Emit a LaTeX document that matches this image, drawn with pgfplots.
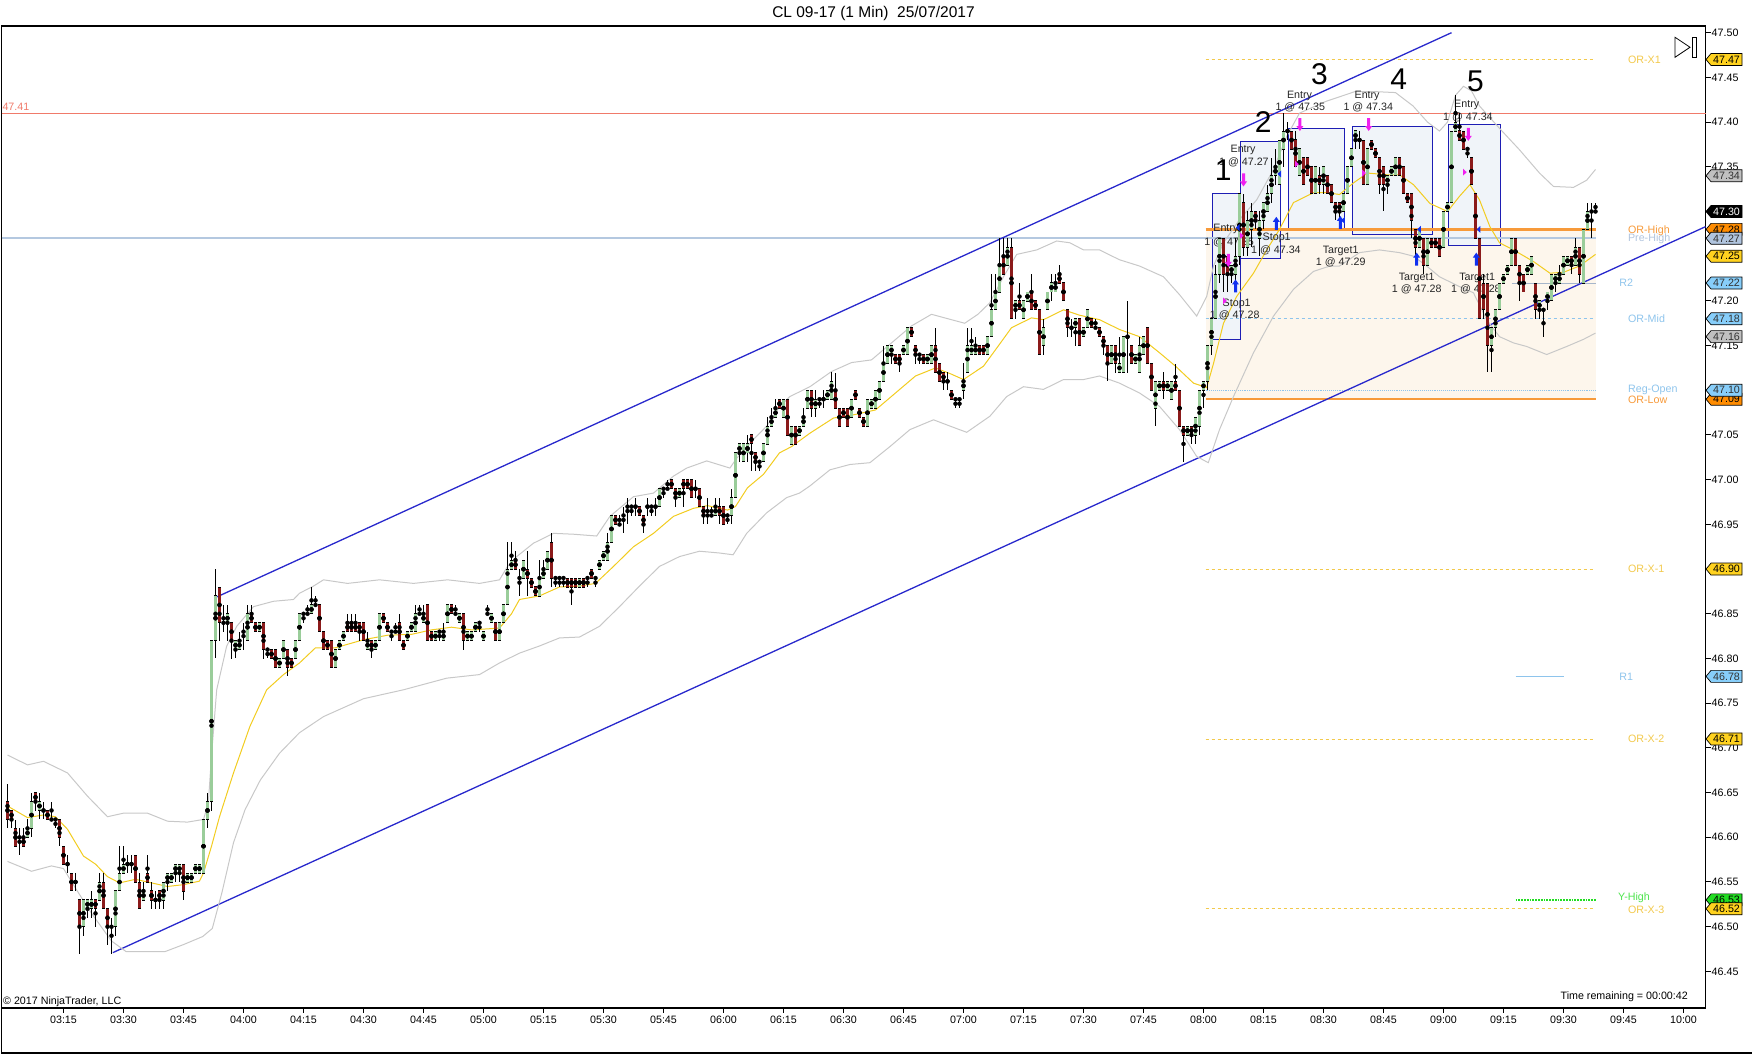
\documentclass[border=0pt]{standalone}
\usepackage{fontspec}
\setmainfont{Liberation Sans}
\usepackage{pgfplots}
\usepackage{pgfplotstable}
\pgfplotsset{compat=1.18}

\definecolor{upc}{HTML}{9ACD9A}
\definecolor{dnc}{HTML}{8B1A1A}
\definecolor{bbc}{HTML}{C8C8C8}
\definecolor{emac}{HTML}{F2CC20}
\definecolor{chan}{HTML}{2828CC}
\definecolor{redl}{HTML}{F07A6A}
\definecolor{preh}{HTML}{B4C8E0}
\definecolor{orc}{HTML}{F79A3A}
\definecolor{ltb}{HTML}{8EC4EC}
\definecolor{goldl}{HTML}{F2C94C}
\definecolor{orshade}{HTML}{FDF6EC}
\definecolor{boxf}{HTML}{F0F4F9}
\definecolor{boxd}{HTML}{1E1EB4}
\definecolor{mag}{HTML}{F020F0}
\definecolor{bluea}{HTML}{1030F0}
\definecolor{yhigh}{HTML}{22DD22}
\definecolor{vgold}{HTML}{FFD21F}
\definecolor{vsilver}{HTML}{C0C0C0}
\definecolor{vorange}{HTML}{FF8C00}
\definecolor{vsteel}{HTML}{B0C4DE}
\definecolor{vsky}{HTML}{87CEFA}
\definecolor{vgreen}{HTML}{22DD22}

\tikzset{
 ann/.style={font=\fontsize{10.7}{12}\selectfont, text=black!85, inner sep=0pt},
 big/.style={font=\fontsize{30}{30}\selectfont, text=black, inner sep=0pt},
 lvl/.style={font=\fontsize{10.7}{12}\selectfont, inner sep=0pt, anchor=west},
}

\pgfdeclareplotmark{darr}{%
 \pgfpathmoveto{\pgfpoint{0pt}{0pt}}\pgfpathlineto{\pgfpoint{-3.5pt}{5pt}}%
 \pgfpathlineto{\pgfpoint{-1.5pt}{5pt}}\pgfpathlineto{\pgfpoint{-1.5pt}{13pt}}%
 \pgfpathlineto{\pgfpoint{1.5pt}{13pt}}\pgfpathlineto{\pgfpoint{1.5pt}{5pt}}%
 \pgfpathlineto{\pgfpoint{3.5pt}{5pt}}\pgfpathclose\pgfusepathqfill}
\pgfdeclareplotmark{uarr}{%
 \pgfpathmoveto{\pgfpoint{0pt}{0pt}}\pgfpathlineto{\pgfpoint{-3.5pt}{-5pt}}%
 \pgfpathlineto{\pgfpoint{-1.5pt}{-5pt}}\pgfpathlineto{\pgfpoint{-1.5pt}{-13pt}}%
 \pgfpathlineto{\pgfpoint{1.5pt}{-13pt}}\pgfpathlineto{\pgfpoint{1.5pt}{-5pt}}%
 \pgfpathlineto{\pgfpoint{3.5pt}{-5pt}}\pgfpathclose\pgfusepathqfill}
\pgfdeclareplotmark{rtri}{%
 \pgfpathmoveto{\pgfpoint{-1.7pt}{-3.5pt}}\pgfpathlineto{\pgfpoint{-1.7pt}{3.5pt}}%
 \pgfpathlineto{\pgfpoint{2pt}{0pt}}\pgfpathclose\pgfusepathqfill}
\pgfdeclareplotmark{ltri}{%
 \pgfpathmoveto{\pgfpoint{1.7pt}{-3.5pt}}\pgfpathlineto{\pgfpoint{1.7pt}{3.5pt}}%
 \pgfpathlineto{\pgfpoint{-2pt}{0pt}}\pgfpathclose\pgfusepathqfill}

\newcommand\VBox[4]{%
 \pgfmathsetmacro\yy{(#1-46.40906)*894}%
 \filldraw[fill=#2, draw=black, line width=0.7pt] (1704.5pt,\yy pt) -- ++(5pt,6pt) -- ++(31pt,0pt) -- ++(0pt,-12pt) -- ++(-31pt,0pt) -- cycle;
 \node[text=#3, inner sep=0pt, font=\fontsize{10.7}{12}\selectfont] at (1725pt,\yy pt) {#4};}

\pgfplotstableread{
m o h l c
1 46.64 46.66 46.61 46.62
2 46.63 46.63 46.61 46.62
3 46.61 46.62 46.59 46.59
4 46.60 46.61 46.58 46.60
5 46.60 46.61 46.59 46.59
6 46.60 46.62 46.60 46.61
7 46.61 46.65 46.60 46.64
8 46.65 46.65 46.63 46.64
9 46.63 46.65 46.62 46.64
10 46.63 46.64 46.62 46.63
11 46.63 46.63 46.62 46.62
12 46.62 46.64 46.62 46.62
13 46.62 46.62 46.61 46.62
14 46.62 46.62 46.59 46.60
15 46.59 46.59 46.57 46.57
16 46.57 46.58 46.56 46.57
17 46.56 46.56 46.54 46.54
18 46.55 46.56 46.54 46.55
19 46.53 46.53 46.47 46.50
20 46.50 46.53 46.49 46.53
21 46.52 46.53 46.51 46.53
22 46.52 46.54 46.51 46.53
23 46.53 46.53 46.50 46.52
24 46.53 46.56 46.53 46.55
25 46.55 46.56 46.52 46.52
26 46.52 46.52 46.48 46.50
27 46.50 46.51 46.47 46.50
28 46.50 46.54 46.49 46.54
29 46.54 46.59 46.54 46.56
30 46.56 46.59 46.56 46.57
31 46.57 46.58 46.56 46.57
32 46.57 46.58 46.56 46.57
33 46.58 46.58 46.55 46.55
34 46.55 46.56 46.52 46.52
35 46.53 46.55 46.53 46.54
36 46.56 46.58 46.55 46.55
37 46.54 46.55 46.52 46.53
38 46.53 46.54 46.52 46.53
39 46.54 46.54 46.52 46.53
40 46.53 46.55 46.52 46.55
41 46.55 46.56 46.54 46.56
42 46.55 46.56 46.55 46.56
43 46.56 46.57 46.55 46.57
44 46.56 46.57 46.55 46.57
45 46.57 46.57 46.53 46.54
46 46.55 46.56 46.55 46.56
47 46.55 46.56 46.55 46.56
48 46.56 46.57 46.56 46.57
49 46.56 46.57 46.56 46.57
50 46.56 46.62 46.56 46.62
51 46.62 46.65 46.61 46.64
52 46.64 46.82 46.63 46.82
53 46.82 46.90 46.80 46.87
54 46.88 46.88 46.82 46.84
55 46.84 46.86 46.83 46.84
56 46.84 46.86 46.82 46.85
57 46.84 46.84 46.80 46.82
58 46.81 46.82 46.80 46.82
59 46.81 46.83 46.81 46.82
60 46.83 46.84 46.81 46.83
61 46.82 46.86 46.82 46.85
62 46.85 46.86 46.84 46.84
63 46.84 46.84 46.83 46.83
64 46.83 46.84 46.83 46.84
65 46.84 46.84 46.80 46.81
66 46.81 46.81 46.80 46.81
67 46.81 46.81 46.80 46.80
68 46.81 46.81 46.79 46.79
69 46.79 46.80 46.79 46.80
70 46.80 46.82 46.80 46.82
71 46.81 46.81 46.78 46.79
72 46.80 46.80 46.79 46.79
73 46.80 46.82 46.80 46.82
74 46.82 46.85 46.82 46.85
75 46.85 46.85 46.84 46.85
76 46.85 46.86 46.85 46.85
77 46.85 46.88 46.85 46.86
78 46.86 46.87 46.86 46.86
79 46.86 46.86 46.83 46.83
80 46.83 46.83 46.81 46.81
81 46.82 46.82 46.81 46.81
82 46.82 46.82 46.79 46.79
83 46.79 46.81 46.79 46.81
84 46.81 46.82 46.81 46.82
85 46.82 46.83 46.82 46.83
86 46.84 46.85 46.83 46.83
87 46.84 46.85 46.83 46.83
88 46.84 46.85 46.83 46.83
89 46.84 46.84 46.82 46.83
90 46.84 46.84 46.82 46.82
91 46.81 46.83 46.81 46.82
92 46.82 46.82 46.80 46.81
93 46.81 46.82 46.81 46.82
94 46.82 46.85 46.82 46.85
95 46.85 46.85 46.84 46.84
96 46.84 46.84 46.83 46.83
97 46.83 46.83 46.82 46.83
98 46.83 46.84 46.83 46.83
99 46.84 46.85 46.82 46.82
100 46.82 46.82 46.81 46.81
101 46.82 46.83 46.82 46.83
102 46.83 46.84 46.83 46.84
103 46.83 46.86 46.83 46.85
104 46.85 46.86 46.85 46.85
105 46.84 46.86 46.84 46.85
106 46.86 46.86 46.82 46.82
107 46.83 46.83 46.82 46.82
108 46.82 46.83 46.82 46.83
109 46.83 46.83 46.82 46.83
110 46.82 46.84 46.82 46.83
111 46.84 46.86 46.84 46.86
112 46.86 46.86 46.85 46.85
113 46.85 46.86 46.85 46.85
114 46.84 46.85 46.84 46.85
115 46.85 46.85 46.81 46.82
116 46.82 46.83 46.82 46.83
117 46.82 46.83 46.82 46.83
118 46.83 46.84 46.83 46.84
119 46.84 46.84 46.83 46.84
120 46.82 46.83 46.82 46.83
121 46.85 46.86 46.85 46.85
122 46.84 46.85 46.84 46.85
123 46.84 46.84 46.82 46.82
124 46.82 46.84 46.82 46.84
125 46.84 46.86 46.84 46.86
126 46.86 46.93 46.86 46.90
127 46.90 46.93 46.90 46.91
128 46.91 46.92 46.90 46.90
129 46.89 46.90 46.87 46.89
130 46.89 46.91 46.89 46.91
131 46.90 46.92 46.87 46.89
132 46.89 46.89 46.88 46.88
133 46.88 46.88 46.87 46.87
134 46.87 46.91 46.87 46.89
135 46.89 46.91 46.89 46.90
136 46.90 46.92 46.90 46.92
137 46.93 46.94 46.88 46.89
138 46.89 46.89 46.88 46.89
139 46.89 46.89 46.88 46.89
140 46.89 46.89 46.88 46.89
141 46.89 46.89 46.88 46.88
142 46.89 46.89 46.86 46.88
143 46.89 46.89 46.88 46.88
144 46.88 46.89 46.88 46.89
145 46.89 46.89 46.88 46.88
146 46.89 46.89 46.88 46.89
147 46.90 46.90 46.89 46.89
148 46.89 46.89 46.88 46.89
149 46.90 46.91 46.90 46.91
150 46.91 46.92 46.91 46.92
151 46.91 46.94 46.91 46.93
152 46.93 46.96 46.93 46.96
153 46.96 46.96 46.95 46.95
154 46.95 46.96 46.95 46.95
155 46.96 46.97 46.94 46.96
156 46.97 46.98 46.95 46.97
157 46.97 46.97 46.96 46.97
158 46.97 46.98 46.96 46.97
159 46.97 46.97 46.96 46.96
160 46.96 46.96 46.94 46.95
161 46.97 46.98 46.96 46.97
162 46.97 46.97 46.96 46.97
163 46.97 46.98 46.96 46.97
164 46.97 46.99 46.97 46.99
165 46.99 46.99 46.98 46.99
166 46.99 47.00 46.99 46.99
167 47.00 47.00 46.99 46.99
168 46.99 46.99 46.97 46.98
169 46.98 46.99 46.98 46.99
170 47.00 47.00 46.97 46.99
171 47.00 47.00 46.99 46.99
172 47.00 47.00 46.98 46.98
173 46.99 47.00 46.98 46.99
174 46.99 46.99 46.97 46.97
175 46.97 46.97 46.95 46.96
176 46.96 46.98 46.95 46.96
177 46.96 46.97 46.96 46.96
178 46.96 46.98 46.96 46.97
179 46.97 46.98 46.95 46.96
180 46.97 46.97 46.95 46.95
181 46.96 46.96 46.95 46.96
182 46.96 46.99 46.95 46.98
183 46.98 47.03 46.98 47.03
184 47.03 47.04 47.02 47.04
185 47.02 47.04 47.02 47.04
186 47.03 47.05 47.02 47.04
187 47.05 47.05 47.01 47.04
188 47.03 47.03 47.01 47.02
189 47.02 47.02 47.01 47.02
190 47.02 47.04 47.02 47.04
191 47.04 47.07 47.04 47.06
192 47.06 47.08 47.06 47.07
193 47.07 47.09 47.07 47.08
194 47.09 47.09 47.08 47.08
195 47.07 47.09 47.07 47.09
196 47.09 47.09 47.05 47.05
197 47.04 47.06 47.04 47.06
198 47.06 47.06 47.04 47.04
199 47.05 47.06 47.05 47.06
200 47.06 47.08 47.06 47.07
201 47.08 47.10 47.08 47.10
202 47.10 47.10 47.07 47.08
203 47.08 47.10 47.07 47.09
204 47.09 47.09 47.08 47.09
205 47.09 47.10 47.08 47.09
206 47.09 47.10 47.09 47.10
207 47.09 47.12 47.09 47.11
208 47.10 47.12 47.08 47.08
209 47.08 47.08 47.06 47.06
210 47.08 47.08 47.07 47.07
211 47.08 47.08 47.06 47.06
212 47.07 47.09 47.07 47.09
213 47.10 47.10 47.09 47.09
214 47.08 47.08 47.07 47.07
215 47.07 47.07 47.06 47.06
216 47.06 47.09 47.06 47.09
217 47.08 47.09 47.08 47.09
218 47.08 47.10 47.08 47.10
219 47.09 47.11 47.09 47.11
220 47.11 47.15 47.11 47.13
221 47.13 47.15 47.13 47.15
222 47.14 47.15 47.13 47.15
223 47.14 47.14 47.13 47.13
224 47.14 47.14 47.12 47.13
225 47.14 47.15 47.14 47.15
226 47.14 47.17 47.14 47.17
227 47.17 47.17 47.16 47.16
228 47.15 47.15 47.13 47.14
229 47.14 47.14 47.13 47.14
230 47.14 47.14 47.13 47.13
231 47.13 47.14 47.13 47.14
232 47.13 47.15 47.13 47.15
233 47.15 47.17 47.12 47.12
234 47.13 47.13 47.11 47.11
235 47.12 47.12 47.10 47.11
236 47.11 47.12 47.10 47.11
237 47.10 47.10 47.09 47.09
238 47.09 47.09 47.08 47.09
239 47.09 47.09 47.08 47.09
240 47.10 47.13 47.09 47.11
241 47.12 47.17 47.12 47.15
242 47.14 47.17 47.14 47.15
243 47.14 47.16 47.14 47.15
244 47.15 47.15 47.14 47.14
245 47.15 47.15 47.14 47.14
246 47.14 47.16 47.14 47.16
247 47.16 47.23 47.16 47.19
248 47.19 47.23 47.19 47.21
249 47.21 47.27 47.21 47.24
250 47.25 47.27 47.23 47.23
251 47.24 47.27 47.24 47.26
252 47.26 47.27 47.18 47.18
253 47.19 47.20 47.18 47.20
254 47.20 47.22 47.19 47.19
255 47.18 47.20 47.18 47.20
256 47.20 47.21 47.20 47.21
257 47.21 47.23 47.19 47.19
258 47.20 47.20 47.19 47.19
259 47.19 47.19 47.14 47.14
260 47.15 47.18 47.14 47.17
261 47.19 47.21 47.19 47.21
262 47.21 47.23 47.20 47.22
263 47.21 47.23 47.21 47.22
264 47.23 47.24 47.22 47.22
265 47.22 47.22 47.20 47.20
266 47.19 47.19 47.16 47.17
267 47.17 47.18 47.16 47.17
268 47.17 47.18 47.15 47.18
269 47.18 47.18 47.15 47.15
270 47.16 47.17 47.16 47.17
271 47.17 47.19 47.17 47.19
272 47.18 47.18 47.17 47.17
273 47.17 47.18 47.17 47.17
274 47.17 47.17 47.16 47.16
275 47.16 47.16 47.14 47.15
276 47.15 47.15 47.11 47.13
277 47.13 47.15 47.13 47.15
278 47.15 47.15 47.12 47.13
279 47.12 47.16 47.12 47.13
280 47.12 47.16 47.12 47.16
281 47.16 47.20 47.12 47.16
282 47.15 47.15 47.13 47.13
283 47.13 47.14 47.13 47.14
284 47.12 47.16 47.12 47.15
285 47.14 47.16 47.14 47.16
286 47.17 47.17 47.13 47.13
287 47.13 47.13 47.10 47.10
288 47.08 47.11 47.06 47.11
289 47.10 47.11 47.10 47.11
290 47.11 47.12 47.09 47.10
291 47.10 47.11 47.10 47.11
292 47.09 47.11 47.09 47.11
293 47.11 47.13 47.10 47.10
294 47.10 47.10 47.06 47.06
295 47.06 47.06 47.02 47.05
296 47.05 47.06 47.05 47.06
297 47.06 47.06 47.04 47.05
298 47.05 47.07 47.04 47.07
299 47.06 47.10 47.05 47.10
300 47.10 47.11 47.08 47.11
301 47.11 47.15 47.10 47.15
302 47.15 47.18 47.14 47.18
303 47.18 47.24 47.18 47.23
304 47.23 47.27 47.22 47.27
305 47.27 47.27 47.21 47.23
306 47.25 47.25 47.21 47.23
307 47.23 47.24 47.22 47.24
308 47.23 47.27 47.22 47.25
309 47.25 47.32 47.24 47.32
310 47.31 47.32 47.25 47.26
311 47.26 47.30 47.25 47.29
312 47.28 47.31 47.26 47.30
313 47.30 47.30 47.28 47.29
314 47.27 47.30 47.25 47.29
315 47.29 47.31 47.28 47.31
316 47.30 47.33 47.30 47.32
317 47.32 47.36 47.31 47.34
318 47.34 47.37 47.33 47.35
319 47.33 47.38 47.33 47.38
320 47.37 47.41 47.35 47.39
321 47.39 47.40 47.38 47.39
322 47.39 47.39 47.37 47.37
323 47.38 47.39 47.35 47.35
324 47.34 47.37 47.34 47.37
325 47.36 47.36 47.33 47.33
326 47.36 47.36 47.34 47.34
327 47.35 47.35 47.32 47.32
328 47.32 47.35 47.32 47.35
329 47.34 47.35 47.32 47.33
330 47.33 47.35 47.32 47.35
331 47.34 47.34 47.32 47.32
332 47.33 47.33 47.31 47.31
333 47.31 47.31 47.29 47.30
334 47.31 47.31 47.29 47.30
335 47.30 47.32 47.30 47.32
336 47.32 47.35 47.32 47.35
337 47.35 47.37 47.35 47.37
338 47.38 47.39 47.37 47.39
339 47.38 47.39 47.37 47.38
340 47.38 47.38 47.33 47.33
341 47.33 47.37 47.33 47.37
342 47.38 47.38 47.37 47.37
343 47.37 47.37 47.36 47.36
344 47.36 47.36 47.32 47.33
345 47.35 47.35 47.30 47.33
346 47.33 47.34 47.32 47.34
347 47.34 47.35 47.34 47.35
348 47.34 47.36 47.34 47.36
349 47.36 47.36 47.34 47.34
350 47.35 47.35 47.32 47.32
351 47.32 47.32 47.31 47.31
352 47.32 47.32 47.27 47.29
353 47.28 47.28 47.25 47.26
354 47.26 47.28 47.26 47.28
355 47.27 47.27 47.23 47.24
356 47.24 47.27 47.24 47.27
357 47.27 47.27 47.26 47.26
358 47.27 47.27 47.26 47.26
359 47.27 47.27 47.25 47.25
360 47.26 47.30 47.26 47.30
361 47.30 47.31 47.30 47.31
362 47.31 47.39 47.31 47.39
363 47.39 47.43 47.39 47.40
364 47.39 47.41 47.38 47.38
365 47.39 47.39 47.37 47.37
366 47.37 47.37 47.36 47.37
367 47.36 47.36 47.33 47.33
368 47.32 47.32 47.27 47.27
369 47.27 47.27 47.18 47.18
370 47.22 47.23 47.18 47.19
371 47.22 47.22 47.12 47.15
372 47.15 47.17 47.12 47.17
373 47.17 47.19 47.16 47.19
374 47.19 47.22 47.19 47.22
375 47.22 47.23 47.22 47.23
376 47.23 47.24 47.23 47.24
377 47.24 47.27 47.24 47.27
378 47.27 47.27 47.24 47.24
379 47.24 47.24 47.20 47.22
380 47.23 47.23 47.21 47.21
381 47.23 47.24 47.23 47.24
382 47.23 47.25 47.23 47.25
383 47.22 47.22 47.18 47.19
384 47.19 47.20 47.18 47.20
385 47.19 47.19 47.16 47.19
386 47.20 47.21 47.19 47.21
387 47.20 47.23 47.20 47.23
388 47.22 47.23 47.21 47.23
389 47.22 47.24 47.22 47.23
390 47.23 47.25 47.23 47.25
391 47.24 47.25 47.24 47.25
392 47.25 47.25 47.23 47.24
393 47.24 47.27 47.24 47.26
394 47.26 47.26 47.22 47.23
395 47.22 47.28 47.22 47.28
396 47.28 47.31 47.28 47.30
397 47.30 47.31 47.27 47.30
398 47.30 47.31 47.30 47.30
}\bars

\begin{document}
\begin{tikzpicture}
\begin{axis}[
  at={(0pt,0pt)}, anchor=south west, scale only axis,
  width=1704pt, height=982pt,
  xmin=-0.5, xmax=425.5, ymin=46.40906, ymax=47.5075,
  clip=false,
  axis line style={black, line width=1.2pt},
  xtick={15,30,...,420},
  xticklabels={03:15,03:30,03:45,04:00,04:15,04:30,04:45,05:00,05:15,05:30,05:45,06:00,06:15,06:30,06:45,07:00,07:15,07:30,07:45,08:00,08:15,08:30,08:45,09:00,09:15,09:30,09:45,10:00},
  ytick={46.45,46.50,46.55,46.60,46.65,46.70,46.75,46.80,46.85,46.90,46.95,47.00,47.05,47.10,47.15,47.20,47.25,47.30,47.35,47.40,47.45,47.50},
  yticklabels={46.45,46.50,46.55,46.60,46.65,46.70,46.75,46.80,46.85,46.90,46.95,47.00,47.05,47.10,47.15,47.20,47.25,47.30,47.35,47.40,47.45,47.50},
  xtick pos=bottom, ytick pos=right, yticklabel pos=right,
  tick align=outside, major tick length=5pt,
  tick style={black, line width=1pt},
  ticklabel style={font=\fontsize{10.7}{12}\selectfont, text=black},
  xticklabel style={inner sep=0pt, anchor=north, yshift=-3pt},
  yticklabel style={inner sep=0pt, anchor=west, xshift=1pt},
]
% opening range shading
\addplot[draw=none, fill=orshade] coordinates {(300.5,47.09) (398,47.09) (398,47.28) (300.5,47.28)} --cycle;
% trade boxes
\addplot[draw=boxd, line width=1pt, fill=boxf] coordinates {(302.2,47.157) (309.3,47.157) (309.3,47.320) (302.2,47.320)} --cycle;
\addplot[draw=boxd, line width=1pt, fill=boxf] coordinates {(309.3,47.247) (319.2,47.247) (319.2,47.378) (309.3,47.378)} --cycle;
\addplot[draw=boxd, line width=1pt, fill=boxf] coordinates {(321.2,47.279) (335.2,47.279) (335.2,47.393) (321.2,47.393)} --cycle;
\addplot[draw=boxd, line width=1pt, fill=boxf] coordinates {(337.2,47.274) (357.2,47.274) (357.2,47.395) (337.2,47.395)} --cycle;
\addplot[draw=boxd, line width=1pt, fill=boxf] coordinates {(361.2,47.262) (374.2,47.262) (374.2,47.397) (361.2,47.397)} --cycle;
% horizontal levels
\addplot[redl, line width=1.2pt] coordinates {(-0.5,47.41) (425.5,47.41)};
\addplot[preh, line width=2pt] coordinates {(-0.5,47.27) (398,47.27)};
\addplot[goldl, line width=0.9pt, dashed] coordinates {(300.5,47.47) (398,47.47)};
\addplot[goldl, line width=0.9pt, dashed] coordinates {(300.5,46.90) (398,46.90)};
\addplot[goldl, line width=0.9pt, dashed] coordinates {(300.5,46.71) (398,46.71)};
\addplot[goldl, line width=0.9pt, dashed] coordinates {(300.5,46.52) (398,46.52)};
\addplot[ltb, line width=0.9pt, dashed] coordinates {(300.5,47.18) (398,47.18)};
\addplot[ltb, line width=0.9pt, densely dotted] coordinates {(300.5,47.10) (398,47.10)};
\addplot[vsteel!80!gray, line width=1pt] coordinates {(377,47.22) (398,47.22)};
\addplot[ltb, line width=1pt] coordinates {(378,46.78) (390,46.78)};
\addplot[yhigh, line width=1.8pt, densely dotted] coordinates {(378,46.53) (398,46.53)};
\addplot[orc, line width=2.5pt] coordinates {(300.5,47.28) (398,47.28)};
\addplot[orc, line width=2.5pt] coordinates {(300.5,47.09) (398,47.09)};
% channel
\addplot[chan, line width=1.3pt] coordinates {(53.4,46.869) (362,47.500)};
\addplot[chan, line width=1.3pt] coordinates {(27.35,46.471) (425.5,47.283)};
% Bollinger bands
\addplot[bbc, line width=1pt] coordinates {(1,46.692) (6,46.681) (10,46.685) (16,46.672) (21,46.646) (26,46.623) (30,46.627) (36,46.627) (41,46.618) (46,46.617) (50,46.620) (51.2,46.638) (52,46.691) (53.3,46.765) (55.8,46.814) (58.3,46.836) (62.5,46.858) (67.5,46.864) (72.5,46.866) (74,46.873) (77.5,46.881) (80,46.888) (86,46.884) (94,46.888) (102.5,46.884) (111,46.888) (119,46.884) (124,46.888) (126,46.903) (128.3,46.914) (132.5,46.929) (137.5,46.940) (142.5,46.939) (148.3,46.937) (151.6,46.959) (157.5,46.981) (162.5,46.985) (167.5,47.004) (170.8,47.013) (175.8,47.021) (181.6,47.013) (183.3,47.024) (187.5,47.045) (190.8,47.060) (194.1,47.082) (196.6,47.093) (201.6,47.104) (207,47.121) (212,47.131) (217,47.134) (222,47.153) (227,47.172) (232,47.185) (235.3,47.181) (240.3,47.175) (243.6,47.185) (246.6,47.198) (250,47.227) (253.3,47.252) (258.3,47.257) (263.3,47.267) (266.6,47.265) (270,47.257) (274,47.257) (279,47.246) (284,47.239) (290,47.227) (294,47.207) (298.3,47.183) (300.8,47.205) (302.5,47.239) (305,47.265) (309,47.291) (313.3,47.313) (317.5,47.347) (320.8,47.384) (324,47.410) (330.5,47.423) (337.8,47.434) (343.3,47.434) (348,47.433) (352.4,47.418) (356,47.400) (359,47.390) (361,47.400) (363,47.430) (365,47.440) (367,47.435) (369,47.418) (374,47.393) (379,47.369) (384,47.343) (387.5,47.328) (392.5,47.327) (395.8,47.335) (398,47.347)};
\addplot[bbc, line width=1pt] coordinates {(1,46.573) (7,46.562) (12,46.568) (15,46.565) (18.3,46.541) (22,46.515) (27,46.484) (30.7,46.472) (35.5,46.472) (40.3,46.472) (45,46.480) (49.8,46.489) (52.2,46.498) (54.6,46.538) (57.5,46.594) (60.4,46.631) (64.2,46.664) (69,46.694) (74,46.717) (80,46.735) (90,46.755) (100,46.765) (110.8,46.778) (119,46.782) (124,46.795) (129,46.806) (134,46.814) (139,46.823) (144,46.824) (149,46.836) (154,46.858) (159,46.881) (164,46.903) (169,46.914) (174,46.920) (179,46.918) (182.4,46.916) (185.8,46.940) (190.8,46.963) (195.8,46.980) (199,46.985) (201.6,46.993) (206.6,47.011) (211.6,47.017) (216.6,47.019) (221.6,47.037) (226.6,47.056) (232.5,47.067) (236.6,47.060) (240.8,47.053) (246.6,47.071) (250.8,47.093) (255,47.104) (260,47.101) (265,47.112) (270,47.112) (274,47.116) (279,47.108) (284,47.097) (289,47.082) (294,47.056) (298.3,47.026) (301.2,47.019) (304,47.056) (307.5,47.093) (312.5,47.142) (317.5,47.183) (322.5,47.213) (327.5,47.233) (331.6,47.239) (334,47.239) (339,47.254) (344,47.257) (349,47.254) (352.5,47.250) (355.8,47.239) (359,47.227) (364,47.216) (367.5,47.209) (370.8,47.179) (374,47.160) (377.5,47.153) (380.8,47.149) (385.8,47.140) (390.8,47.149) (395,47.157) (398,47.164)};
% EMA
\addplot[emac, line width=1pt] coordinates {(1,46.635) (6,46.622) (10,46.625) (13,46.623) (16,46.609) (20,46.579) (23,46.570) (26,46.556) (29,46.549) (33,46.553) (37,46.549) (41,46.545) (45,46.547) (49,46.551) (50,46.560) (52,46.590) (54,46.623) (57.5,46.672) (61.6,46.724) (65.8,46.765) (70,46.782) (74,46.795) (78,46.812) (83,46.812) (90,46.821) (96,46.826) (102,46.827) (107,46.832) (112,46.835) (117,46.832) (124,46.834) (127,46.850) (129,46.866) (134,46.870) (139,46.880) (144,46.881) (148,46.884) (152.5,46.903) (157.5,46.925) (162.5,46.940) (167.5,46.959) (172.5,46.968) (176,46.971) (181,46.966) (183,46.970) (186,46.991) (190,47.006) (194,47.030) (197,47.037) (201.6,47.052) (207.5,47.069) (213,47.073) (218,47.078) (223,47.097) (228,47.116) (233,47.125) (237,47.118) (240,47.112) (245,47.127) (248.6,47.149) (252,47.170) (257,47.181) (260,47.179) (265,47.190) (269,47.184) (274,47.179) (279,47.168) (284,47.160) (289,47.142) (293,47.127) (297.5,47.108) (300.8,47.103) (302.5,47.130) (305,47.175) (308.3,47.205) (312.5,47.231) (315.8,47.257) (319,47.280) (322.5,47.310) (327.5,47.321) (331,47.321) (334,47.319) (337.5,47.332) (341,47.343) (346,47.341) (349,47.341) (352.5,47.330) (356.6,47.309) (361,47.300) (364,47.317) (366.6,47.330) (369,47.313) (371.6,47.283) (374,47.265) (377.5,47.257) (382.5,47.244) (386.6,47.231) (390,47.232) (394,47.239) (398,47.252)};
% annotation texts
\node[ann] at (axis cs:305.6,47.280) {Entry};
\node[ann] at (axis cs:306.4,47.266) {1 @ 47.25};
\node[ann] at (axis cs:308.3,47.197) {Stop1};
\node[ann] at (axis cs:307.8,47.184) {1 @ 47.28};
\node[ann] at (axis cs:309.9,47.369) {Entry};
\node[ann] at (axis cs:310.1,47.355) {1 @ 47.27};
\node[ann] at (axis cs:318.3,47.270) {Stop1};
\node[ann] at (axis cs:318.1,47.256) {1 @ 47.34};
\node[ann] at (axis cs:324.0,47.429) {Entry};
\node[ann] at (axis cs:324.2,47.416) {1 @ 47.35};
\node[ann] at (axis cs:334.3,47.256) {Target1};
\node[ann] at (axis cs:334.3,47.243) {1 @ 47.29};
\node[ann] at (axis cs:340.9,47.429) {Entry};
\node[ann] at (axis cs:341.2,47.416) {1 @ 47.34};
\node[ann] at (axis cs:353.3,47.226) {Target1};
\node[ann] at (axis cs:353.3,47.213) {1 @ 47.28};
\node[ann] at (axis cs:365.8,47.419) {Entry};
\node[ann] at (axis cs:366.1,47.405) {1 @ 47.34};
\node[ann] at (axis cs:368.4,47.226) {Target1};
\node[ann] at (axis cs:368.1,47.213) {1 @ 47.28};
\node[big] at (axis cs:304.9,47.346) {1};
\node[big] at (axis cs:314.9,47.400) {2};
\node[big] at (axis cs:329.0,47.454) {3};
\node[big] at (axis cs:348.8,47.448) {4};
\node[big] at (axis cs:368.0,47.446) {5};
% right side level labels
\node[lvl, text=goldl] at (axis cs:406.1,47.47) {OR-X1};
\node[lvl, text=orc] at (axis cs:406.1,47.279) {OR-High};
\node[lvl, text=vsteel] at (axis cs:406.1,47.270) {Pre-High};
\node[lvl, text=ltb] at (axis cs:403.9,47.22) {R2};
\node[lvl, text=ltb] at (axis cs:406.1,47.18) {OR-Mid};
\node[lvl, text=ltb] at (axis cs:406.1,47.101) {Reg-Open};
\node[lvl, text=orc] at (axis cs:406.1,47.089) {OR-Low};
\node[lvl, text=goldl] at (axis cs:406.1,46.90) {OR-X-1};
\node[lvl, text=ltb] at (axis cs:403.9,46.78) {R1};
\node[lvl, text=goldl] at (axis cs:406.1,46.71) {OR-X-2};
\node[lvl, text=yhigh!80] at (axis cs:403.6,46.532) {Y-High};
\node[lvl, text=goldl] at (axis cs:406.1,46.519) {OR-X-3};
\node[lvl, text=redl] at (axis cs:-0.3,47.4175) {47.41};
% candles: wicks
\addplot[only marks, mark=none, error bars/.cd, y dir=both, y explicit, error mark=none,
  error bar style={black, line width=1pt}]
  table[x=m, y expr={(\thisrow{h}+\thisrow{l})/2}, y error expr={(\thisrow{h}-\thisrow{l})/2}] {\bars};
% body outlines
\addplot[only marks, mark=none, error bars/.cd, y dir=both, y explicit, error mark=none,
  error bar style={black, line width=3.3pt}]
  table[x=m, y expr={(\thisrow{o}+\thisrow{c})/2}, y error expr={abs(\thisrow{c}-\thisrow{o})/2+0.0006}] {\bars};
% up bodies
\addplot[only marks, mark=none, restrict y to domain=46:48, error bars/.cd, y dir=both, y explicit, error mark=none,
  error bar style={upc, line width=2.1pt}]
  table[x=m, y expr={\thisrow{c}>\thisrow{o} ? (\thisrow{o}+\thisrow{c})/2 : 100}, y error expr={max(abs(\thisrow{c}-\thisrow{o})/2-0.0005,0.0001)}] {\bars};
% down bodies
\addplot[only marks, mark=none, restrict y to domain=46:48, error bars/.cd, y dir=both, y explicit, error mark=none,
  error bar style={dnc, line width=2.1pt}]
  table[x=m, y expr={\thisrow{c}<\thisrow{o} ? (\thisrow{o}+\thisrow{c})/2 : 100}, y error expr={max(abs(\thisrow{c}-\thisrow{o})/2-0.0005,0.0001)}] {\bars};
% execution markers
\addplot[only marks, mark=darr, mag] coordinates {(306.2,47.238) (310,47.328) (324.1,47.390) (341.3,47.390) (366.2,47.379)};
\addplot[only marks, mark=uarr, bluea] coordinates {(308,47.224) (318.2,47.294) (334.2,47.295) (353.3,47.254) (368.2,47.254)};
\addplot[only marks, mark=rtri, mag] coordinates {(305.3,47.200) (309.5,47.273) (323.3,47.353) (340.1,47.343) (365.3,47.344)};
\addplot[only marks, mark=ltri, bluea] coordinates {(308.6,47.282) (319,47.342) (334.9,47.290) (353.9,47.280) (368.8,47.280)};
\end{axis}
% value boxes on the price axis
\VBox{47.47}{vgold}{black}{47.47}
\VBox{47.34}{vsilver}{black!80}{47.34}
\VBox{47.30}{black}{white}{47.30}
\VBox{47.28}{vorange}{black}{47.28}
\VBox{47.27}{vsteel}{black!80}{47.27}
\VBox{47.25}{vgold}{black}{47.25}
\VBox{47.22}{vsky}{black!80}{47.22}
\VBox{47.18}{vsky}{black!80}{47.18}
\VBox{47.16}{vsilver}{black!80}{47.16}
\VBox{47.09}{vorange}{black}{47.09}
\VBox{47.10}{vsky}{black!80}{47.10}
\VBox{46.90}{vgold}{black}{46.90}
\VBox{46.78}{vsky}{black!80}{46.78}
\VBox{46.71}{vgold}{black}{46.71}
\VBox{46.53}{vgreen}{black}{46.53}
\VBox{46.52}{vgold}{black}{46.52}
% title, footers, icon, frame
\node[font=\fontsize{15.5}{17}\selectfont, inner sep=0pt] at (872pt,994pt) {CL 09-17 (1 Min)\ \ 25/07/2017};
\node[font=\fontsize{10.7}{12}\selectfont, inner sep=0pt, anchor=west] at (1.5pt,6.3pt) {© 2017 NinjaTrader, LLC};
\node[font=\fontsize{10.7}{12}\selectfont, inner sep=0pt, anchor=east] at (1686.5pt,11pt) {Time remaining = 00:00:42};
\draw[black, line width=0.8pt, fill=white] (1673.5pt,950.7pt) -- (1673.5pt,970.7pt) -- (1688.5pt,960.7pt) -- cycle;
\draw[black, line width=0.8pt, fill=white] (1690.5pt,950.7pt) rectangle (1694.5pt,970.7pt);
\draw[black, line width=1.2pt] (0pt,0pt) -- (0pt,-45pt) -- (1752pt,-45pt);
\pgfresetboundingbox
\useasboundingbox (-1.5pt,-46pt) rectangle (1750.5pt,1008pt);
\end{tikzpicture}
\end{document}
